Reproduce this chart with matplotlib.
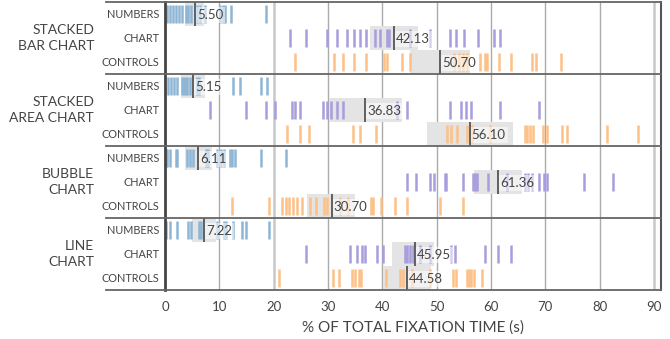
import matplotlib
matplotlib.use('Agg')
from matplotlib import pyplot as plt
from matplotlib.transforms import blended_transform_factory

plt.rcParams['font.family'] = ['Lato', 'DejaVu Sans']

groups = ['STACKED\nBAR CHART', 'STACKED\nAREA CHART', 'BUBBLE\nCHART', 'LINE\nCHART']
rows = ['NUMBERS', 'CHART', 'CONTROLS']

bar_numbers = [0.4, 0.9, 1.4, 2.0, 2.6, 3.2, 3.9, 4.3, 4.8, 5.9, 6.5, 7.4, 10.1, 10.6, 11.1, 12.1, 18.6]
bar_chart = [23.1, 26.0, 29.8, 31.6, 33.5, 34.7, 35.9, 37.0, 38.7, 39.5, 40.8, 41.2, 45.1, 48.7,
             52.4, 53.6, 55.1, 57.7, 60.6, 61.7]
bar_controls = [23.9, 31.1, 32.7, 34.8, 37.0, 40.4, 40.8, 43.6, 45.1, 53.2, 54.2, 54.8, 55.5, 57.9,
                58.9, 59.2, 61.4, 63.7, 67.5, 68.3, 72.9]

area_numbers = [0.6, 1.1, 1.6, 2.2, 3.1, 3.5, 3.8, 4.1, 4.6, 5.8, 6.3, 12.6, 13.8, 17.6, 18.7]
area_chart = [8.3, 14.9, 18.6, 20.3, 23.4, 24.0, 24.9, 29.1, 29.8, 30.6, 31.6, 32.7, 42.7, 44.5,
              52.5, 54.5, 55.4, 56.3, 61.6, 68.9]
area_controls = [22.4, 24.9, 26.5, 34.6, 35.9, 38.9, 51.9, 52.6, 53.7, 55.6, 56.5, 59.9, 66.3, 66.7,
                 67.2, 67.8, 69.6, 70.4, 73.1, 74.0, 81.3, 87.0]

bubble_numbers = [0.2, 0.4, 1.0, 2.0, 2.3, 4.0, 4.6, 5.2, 7.5, 8.0, 9.5, 10.4, 10.9, 12.0, 12.4,
                  12.8, 17.6, 22.3]
bubble_chart = [44.5, 46.2, 48.8, 49.5, 51.5, 51.8, 54.8, 56.7, 57.1, 57.5, 59.5, 62.9, 66.3, 66.9,
                67.6, 68.8, 69.7, 70.3, 77.2, 82.5]
bubble_controls = [12.3, 19.1, 21.5, 22.3, 22.9, 23.5, 24.3, 25.2, 26.6, 27.8, 29.2, 29.8, 32.2, 33.6,
                   37.9, 38.3, 39.7, 42.4, 44.5, 50.6, 54.8]

line_numbers = [0.2, 0.9, 2.2, 4.3, 4.8, 6.2, 6.7, 9.5, 10.9, 11.3, 12.6, 14.1, 14.9, 19.2]
line_chart = [26.0, 34.1, 35.4, 36.2, 36.8, 39.0, 40.2, 44.2, 44.6, 45.1, 45.7, 47.0, 48.8, 52.6,
              53.4, 58.9, 61.3, 63.7]
line_controls = [20.9, 31.0, 32.1, 34.4, 35.0, 35.7, 36.0, 40.7, 43.3, 43.8, 45.4, 48.8, 53.0, 53.6,
                 55.6, 56.0, 56.4, 56.8, 58.3]

# mittelwerte und konfidenzintervalle (numbers, chart, controls)
means = [[5.50, 42.13, 50.70], [5.15, 36.83, 56.10], [6.11, 61.36, 30.70], [7.22, 45.95, 44.58]]
ci_low = [[3.7, 37.7, 45.1], [2.9, 30.1, 48.2], [3.6, 56.8, 26.2], [5.0, 41.8, 40.2]]
ci_high = [[7.2, 46.6, 56.2], [7.4, 43.6, 64.0], [8.6, 65.8, 35.0], [9.4, 49.6, 48.9]]

marks = [[bar_numbers, bar_chart, bar_controls],
         [area_numbers, area_chart, area_controls],
         [bubble_numbers, bubble_chart, bubble_controls],
         [line_numbers, line_chart, line_controls]]

colors = ['#8db5d5', '#a89edd', '#fdc087']
text_color = '#444444'

fig = plt.figure(figsize=(6.7, 3.39), dpi=100)
ax = fig.add_axes([165 / 670, 49 / 339, 496 / 670, 288 / 339])
ax.set_xlim(0, 91.3)
ax.set_ylim(12, 0)

for x in range(10, 100, 10):
    if x in (20, 90):
        ax.axvline(x, color='#c8c8c8', lw=1.8, zorder=0)
    else:
        ax.axvline(x, color='#ababab', lw=1.0, zorder=0)

for g in range(4):
    for r in range(3):
        i = g * 3 + r
        ax.fill_between([ci_low[g][r], ci_high[g][r]], i, i + 1, color='#e4e4e4', lw=0, zorder=1)
        ax.vlines(marks[g][r], i + 0.14, i + 0.86, color=colors[r], lw=1.8, zorder=2)
        m = means[g][r]
        ax.vlines(m, i + 0.02, i + 0.98, color='#555555', lw=1.3, zorder=4)
        ax.text(m + 0.35, i + 0.55, '%.2f' % m, fontsize=9.5, color=text_color, va='center', ha='left',
                zorder=3, bbox=dict(facecolor='white', alpha=0.55, edgecolor='none', pad=1.5))

trans = blended_transform_factory(ax.transAxes, ax.transData)
for g in range(4):
    ax.text(-0.143, g * 3 + 1.5, groups[g], transform=trans, ha='right', va='center',
            fontsize=10, color=text_color, linespacing=1.35)
    for r in range(3):
        ax.text(-0.012, g * 3 + r + 0.5, rows[r], transform=trans, ha='right', va='center',
                fontsize=7.8, color=text_color)

for y in [0, 3, 6, 9, 12]:
    ax.plot([-0.119, 1], [y, y], transform=trans, clip_on=False, color='#666666', lw=1.3, zorder=5)

for s in ['top', 'bottom']:
    ax.spines[s].set_visible(False)
ax.spines['left'].set_color('#444444')
ax.spines['left'].set_linewidth(2)
ax.spines['right'].set_color('#555555')
ax.spines['right'].set_linewidth(1.5)

ax.set_yticks([])
ax.set_xticks(range(0, 100, 10))
ax.tick_params(axis='x', length=0, pad=8, labelsize=9.5, labelcolor=text_color)
ax.set_xlabel('% OF TOTAL FIXATION TIME (s)', fontsize=11, color=text_color, labelpad=5)

plt.savefig('out.png', dpi=100)
